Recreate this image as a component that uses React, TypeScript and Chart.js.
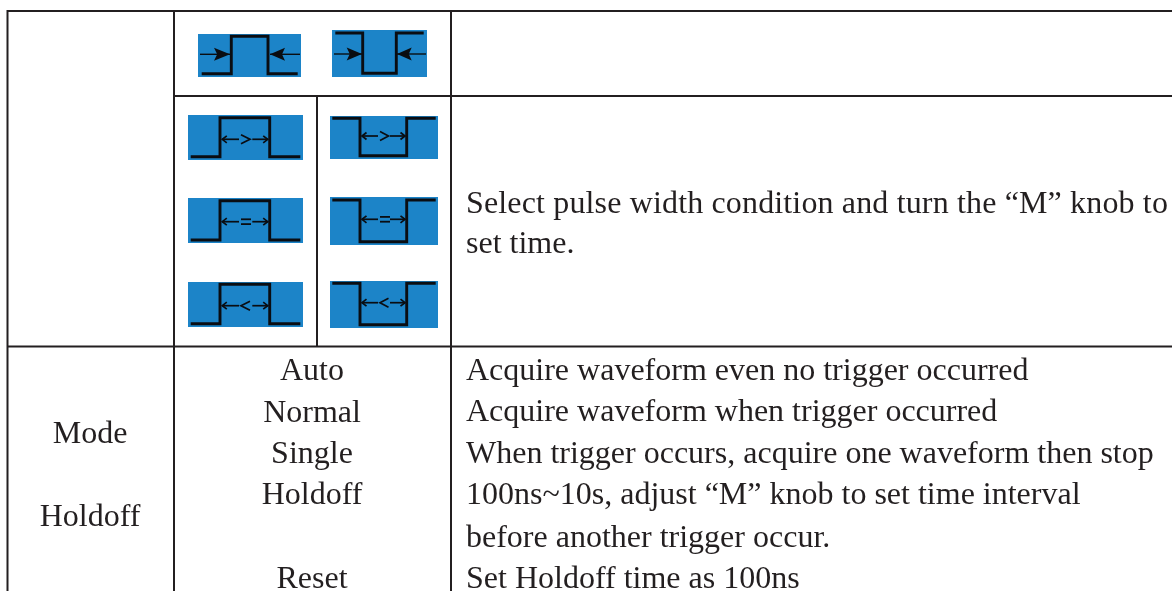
import React, { useEffect, useRef } from "react";
import { Chart, registerables } from "chart.js";

Chart.register(...registerables);

type Pt = { x: number; y: number };

const INK = "#231f20";
const TRACE = "#0a0d12";
const BLUE = "#1c84c8";

// table rules: [x1, y1, x2, y2]
const tableRules = [
  [7.5, 11, 1172, 11],
  [174, 96, 1172, 96],
  [7.5, 346.5, 1172, 346.5],
  [7.5, 10, 7.5, 591],
  [174, 10, 174, 591],
  [317, 96, 317, 346.5],
  [451, 10, 451, 591],
];

// icon panels: [left, top, right, bottom]
const iconPanels = [
  [198, 34, 301, 77],
  [332, 30, 427, 77],
  [188, 115, 303, 160],
  [330, 116, 438, 159],
  [188, 198, 303, 243],
  [330, 197, 438, 245],
  [188, 282, 303, 327],
  [330, 281, 438, 328],
];

// pulse traces: [start x, edge 1 x, edge 2 x, end x, outer level, inner level]
const pulseTraces = [
  [201.7, 231.3, 268, 297.7, 73.7, 36.3],
  [335.3, 362.7, 396.3, 423.7, 33, 73.3],
  [190.7, 220, 269.7, 300.3, 156.7, 117.7],
  [332.3, 360, 406.7, 435.7, 118.3, 155.7],
  [190.7, 220, 269.7, 300.3, 240, 200.7],
  [332.3, 360, 406.7, 435.7, 200, 241.7],
  [190.7, 220, 269.7, 300.3, 323.7, 284.3],
  [332.3, 360, 406.7, 435.7, 283.3, 324.7],
];

// large trigger arrows: [tail x, base x, tip x, level]
const triggerArrows = [
  [200, 214, 230, 54.3],
  [300, 285, 270, 54.3],
  [334, 346.7, 362, 54],
  [426, 411.7, 397, 54],
];

// width arrows: [tail x, tip x, level]
const widthArrows = [
  [239, 222.3, 139.3], [252.3, 267.7, 139.3],
  [378, 362, 136], [390, 405, 136],
  [239, 222.3, 221.7], [252.3, 267.7, 221.7],
  [378, 362, 219.3], [390, 405, 219.3],
  [239, 222.3, 305.7], [252.3, 267.7, 305.7],
  [378, 362, 302.7], [390, 405, 302.7],
];

// comparison glyphs: [kind, left x, right x, level]
const comparisons: [string, number, number, number][] = [
  [">", 241, 250, 139.3],
  [">", 380, 388.5, 136],
  ["=", 241, 251, 221.7],
  ["=", 380, 390, 219.3],
  ["<", 241, 250, 305.7],
  ["<", 380, 388.5, 302.7],
];

const centeredLabels: [string, number, number][] = [
  ["Mode", 90, 442.5],
  ["Holdoff", 90, 526],
  ["Auto", 312, 380],
  ["Normal", 312, 421.5],
  ["Single", 312, 462.7],
  ["Holdoff", 312, 504],
  ["Reset", 312, 587.7],
];

const descriptionLabels: [string, number, number][] = [
  ["Select pulse width condition and turn the \u201cM\u201d knob to", 213, 0.15],
  ["set time.", 252.5, 0],
  ["Acquire waveform even no trigger occurred", 379.5, 0],
  ["Acquire waveform when trigger occurred", 421, 0],
  ["When trigger occurs, acquire one waveform then stop", 462.7, 0],
  ["100ns~10s, adjust \u201cM\u201d knob to set time interval", 504, 0],
  ["before another trigger occur.", 546.5, 0],
  ["Set Holdoff time as 100ns", 587.7, 0],
];

function stroke(points: Pt[], width: number, order: number, color = TRACE) {
  return {
    type: "line",
    data: points,
    borderColor: color,
    backgroundColor: color,
    borderWidth: width,
    borderCapStyle: "butt",
    borderJoinStyle: "miter",
    pointRadius: 0,
    fill: false,
    tension: 0,
    order,
    clip: false,
  };
}

function shape(points: Pt[], color: string, order: number) {
  return {
    type: "line",
    data: points,
    borderColor: color,
    backgroundColor: color,
    borderWidth: 0,
    pointRadius: 0,
    fill: "shape",
    tension: 0,
    order,
    clip: false,
  };
}

function buildDatasets() {
  const sets: any[] = [];
  tableRules.forEach(([a, b, c, d]) =>
    sets.push(stroke([{ x: a, y: b }, { x: c, y: d }], 2, 1, INK))
  );
  iconPanels.forEach(([l, t, r, b]) =>
    sets.push(
      shape(
        [{ x: l, y: t }, { x: r, y: t }, { x: r, y: b }, { x: l, y: b }, { x: l, y: t }],
        BLUE,
        5
      )
    )
  );
  pulseTraces.forEach(([s, e1, e2, end, outer, inner]) =>
    sets.push(
      stroke(
        [
          { x: s, y: outer }, { x: e1, y: outer }, { x: e1, y: inner },
          { x: e2, y: inner }, { x: e2, y: outer }, { x: end, y: outer },
        ],
        2.9,
        2
      )
    )
  );
  triggerArrows.forEach(([tail, base, tip, lvl]) => {
    sets.push(stroke([{ x: tail, y: lvl }, { x: tip, y: lvl }], 1.4, 3));
    const notch = base + (tip - base) * 0.2;
    sets.push(
      shape(
        [
          { x: base, y: lvl - 6.5 }, { x: tip, y: lvl }, { x: base, y: lvl + 6.5 },
          { x: notch, y: lvl }, { x: base, y: lvl - 6.5 },
        ],
        TRACE,
        3
      )
    );
  });
  widthArrows.forEach(([tail, tip, lvl]) => {
    const dir = tail < tip ? 1 : -1;
    sets.push(stroke([{ x: tail, y: lvl }, { x: tip, y: lvl }], 1.7, 3));
    sets.push(
      stroke(
        [{ x: tip - dir * 4.5, y: lvl - 3.5 }, { x: tip, y: lvl }, { x: tip - dir * 4.5, y: lvl + 3.5 }],
        1.7,
        3
      )
    );
  });
  comparisons.forEach(([kind, l, r, lvl]) => {
    if (kind === "=") {
      sets.push(stroke([{ x: l, y: lvl - 2.4 }, { x: r, y: lvl - 2.4 }], 1.8, 3));
      sets.push(stroke([{ x: l, y: lvl + 2.4 }, { x: r, y: lvl + 2.4 }], 1.8, 3));
    } else {
      const from = kind === ">" ? l : r;
      const to = kind === ">" ? r : l;
      sets.push(
        stroke([{ x: from, y: lvl - 4.5 }, { x: to, y: lvl }, { x: from, y: lvl + 4.5 }], 1.7, 3)
      );
    }
  });
  return sets;
}

const tableText = {
  id: "tableText",
  afterDatasetsDraw(chart: any) {
    const { ctx, scales } = chart;
    ctx.save();
    ctx.fillStyle = INK;
    ctx.font = '32px "Liberation Serif"';
    ctx.textBaseline = "alphabetic";
    ctx.textAlign = "center";
    centeredLabels.forEach(([t, x, y]) =>
      ctx.fillText(t, scales.x.getPixelForValue(x), scales.y.getPixelForValue(y))
    );
    ctx.textAlign = "left";
    descriptionLabels.forEach(([t, y, spacing]) => {
      ctx.letterSpacing = `${spacing}px`;
      ctx.fillText(t, scales.x.getPixelForValue(466), scales.y.getPixelForValue(y));
    });
    ctx.restore();
  },
};

export default function App() {
  const ref = useRef<HTMLCanvasElement>(null);
  useEffect(() => {
    const chart = new Chart(ref.current!, {
      type: "line",
      data: { datasets: buildDatasets() },
      plugins: [tableText],
      options: {
        animation: false,
        responsive: false,
        layout: { padding: 0 },
        plugins: { legend: { display: false }, tooltip: { enabled: false }, title: { display: false } },
        scales: {
          x: { type: "linear", min: 0, max: 1172, display: false },
          y: { type: "linear", min: 0, max: 591, reverse: true, display: false },
        },
      },
    } as any);
    return () => chart.destroy();
  }, []);
  return (
    <div style={{ position: "fixed", left: 0, top: 0, width: 1172, height: 591, background: "#fff" }}>
      <canvas ref={ref} width={1172} height={591} style={{ display: "block", filter: "blur(0.45px)" }} />
    </div>
  );
}
